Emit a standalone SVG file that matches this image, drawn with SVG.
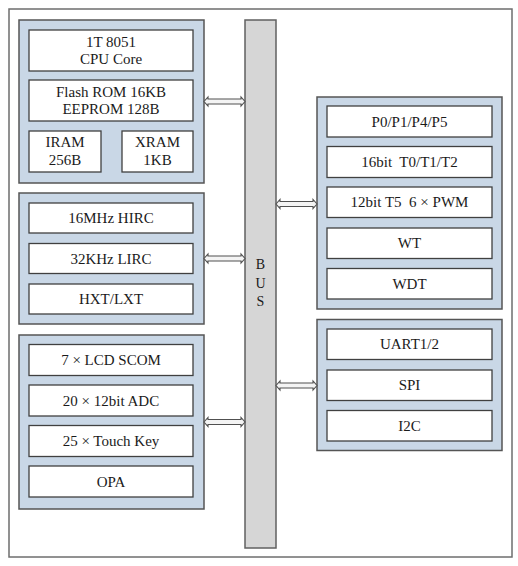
<svg xmlns="http://www.w3.org/2000/svg" width="518" height="566" viewBox="0 0 518 566">
<style>
.frame{fill:#ffffff;stroke:#6e6e6e;stroke-width:1.5}
.panel{fill:#c9d7e6;stroke:#555555;stroke-width:1.5}
.box{fill:#ffffff;stroke:#404040;stroke-width:1.3}
.bus{fill:#d6d6d6;stroke:#606060;stroke-width:1.5}
.arr{fill:#f4f4f4;stroke:#505050;stroke-width:1.1}
text{font-family:"Liberation Serif","Times New Roman",serif;font-size:15px;fill:#1a1a1a;text-anchor:middle;white-space:pre}
.bt{font-size:14px}
</style>
<rect class="frame" x="9" y="9" width="503" height="548"/>
<g id="bus">
<rect class="bus" x="245" y="20" width="31" height="528"/>
<text class="bt" x="260.5" y="269">B</text>
<text class="bt" x="260.5" y="288">U</text>
<text class="bt" x="260.5" y="306">S</text>
</g>
<g id="core">
<rect class="panel" x="19" y="20" width="185" height="163"/>
<rect class="box" x="29" y="30" width="164" height="41"/>
<text x="111" y="47">1T 8051</text>
<text x="111" y="63.5">CPU Core</text>
<rect class="box" x="29" y="80" width="164" height="41"/>
<text x="111" y="96.5">Flash ROM 16KB</text>
<text x="111" y="113.5">EEPROM 128B</text>
<rect class="box" x="29" y="131" width="72" height="41"/>
<text x="65" y="147">IRAM</text>
<text x="65" y="165">256B</text>
<rect class="box" x="122" y="131" width="71" height="41"/>
<text x="157.5" y="147">XRAM</text>
<text x="157.5" y="165">1KB</text>
</g>
<g id="clock">
<rect class="panel" x="19" y="193" width="185" height="131"/>
<rect class="box" x="29" y="203" width="164" height="30"/>
<text x="111" y="223">16MHz HIRC</text>
<rect class="box" x="29" y="243.5" width="164" height="30"/>
<text x="111" y="263.5">32KHz LIRC</text>
<rect class="box" x="29" y="284" width="164" height="30"/>
<text x="111" y="304">HXT/LXT</text>
</g>
<g id="analog">
<rect class="panel" x="19" y="335" width="185" height="174"/>
<rect class="box" x="29" y="344.5" width="164" height="31"/>
<text x="111" y="365">7 × LCD SCOM</text>
<rect class="box" x="29" y="385" width="164" height="31"/>
<text x="111" y="405.5">20 × 12bit ADC</text>
<rect class="box" x="29" y="425.5" width="164" height="31"/>
<text x="111" y="446">25 × Touch Key</text>
<rect class="box" x="29" y="466" width="164" height="31"/>
<text x="111" y="487">OPA</text>
</g>
<g id="io">
<rect class="panel" x="317" y="97" width="185" height="212"/>
<rect class="box" x="327" y="106" width="165" height="31"/>
<text x="409.5" y="126.5">P0/P1/P4/P5</text>
<rect class="box" x="327" y="146.5" width="165" height="31"/>
<text x="409.5" y="167" xml:space="preserve">16bit  T0/T1/T2</text>
<rect class="box" x="327" y="187" width="165" height="30.5"/>
<text x="409.5" y="207" xml:space="preserve">12bit T5  6 × PWM</text>
<rect class="box" x="327" y="228" width="165" height="30.5"/>
<text x="409.5" y="248">WT</text>
<rect class="box" x="327" y="268.5" width="165" height="30.5"/>
<text x="409.5" y="288.5">WDT</text>
</g>
<g id="comm">
<rect class="panel" x="317" y="319.5" width="185" height="131"/>
<rect class="box" x="327" y="329" width="165" height="30.5"/>
<text x="409.5" y="349">UART1/2</text>
<rect class="box" x="327" y="370" width="165" height="30.5"/>
<text x="409.5" y="390">SPI</text>
<rect class="box" x="327" y="410.5" width="165" height="30.5"/>
<text x="409.5" y="430.5">I2C</text>
</g>
<g id="connectors">
<path class="arr" d="M204,101.5 L208,97 L208,99 L241,99 L241,97 L245,101.5 L241,106 L241,104 L208,104 L208,106 Z"/>
<path class="arr" d="M204,258.5 L208,254 L208,256 L241,256 L241,254 L245,258.5 L241,263 L241,261 L208,261 L208,263 Z"/>
<path class="arr" d="M204,422 L208,417.5 L208,419.5 L241,419.5 L241,417.5 L245,422 L241,426.5 L241,424.5 L208,424.5 L208,426.5 Z"/>
<path class="arr" d="M276,204 L280,199.5 L280,201.5 L313,201.5 L313,199.5 L317,204 L313,208.5 L313,206.5 L280,206.5 L280,208.5 Z"/>
<path class="arr" d="M276,385.5 L280,381 L280,383 L313,383 L313,381 L317,385.5 L313,390 L313,388 L280,388 L280,390 Z"/>
</g>
</svg>
